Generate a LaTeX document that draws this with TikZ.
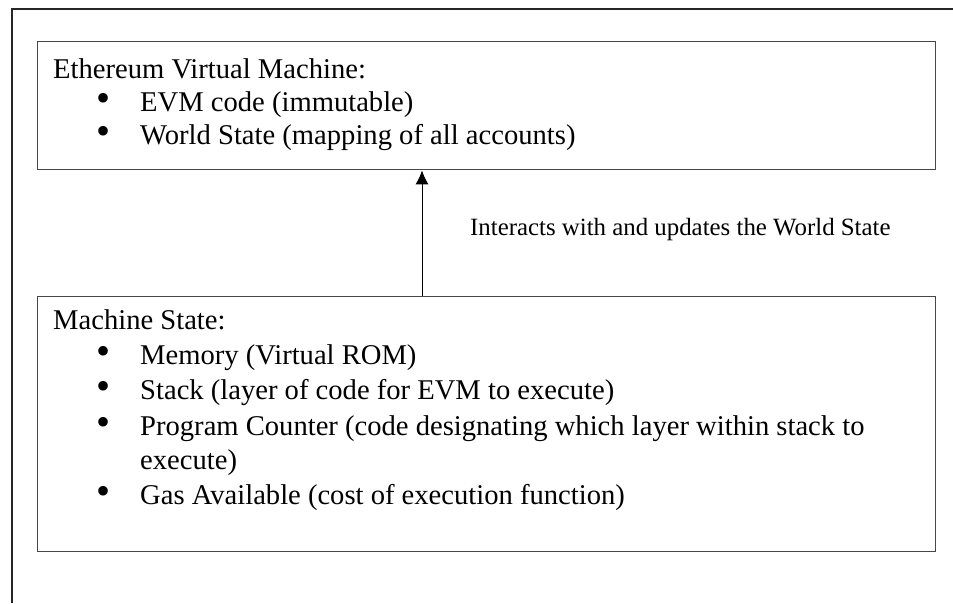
\documentclass[tikz,border=0pt]{standalone}
\usepackage{fontspec}
\setmainfont{Liberation Serif}
\usetikzlibrary{arrows.meta}

\newcommand{\boxtext}{\fontsize{28.6}{32}\selectfont}
\newcommand{\labeltext}{\fontsize{24.85}{28}\selectfont}
\newcommand{\itembullet}{\hspace*{50pt}\makebox[0pt]{\smash{\scalebox{1.4}{\textbullet}}}\hspace*{37pt}}

\tikzset{
  panel/.style={draw=black!72,line width=1.4pt,rectangle,inner sep=0pt,anchor=north west},
  line/.style={anchor=base west,inner sep=0pt,font=\boxtext}
}

\begin{document}
\begin{tikzpicture}[x=1pt,y=-1pt]
\useasboundingbox (0,0) rectangle (953,603);
\draw[line width=1.4pt,black!85] (12,603) -- (12,9) -- (953,9);

\node[panel,minimum width=898pt,minimum height=128pt] (evm) at (37,41) {};
\node[line] (evm-t) at (53,78) {Ethereum Virtual Machine:};
\node[line] (evm-1) at (53,111) {\itembullet EVM code (immutable)};
\node[line] (evm-2) at (53,144) {\itembullet World State (mapping of all accounts)};

\node[panel,minimum width=898pt,minimum height=255pt] (ms) at (37,296) {};
\node[line] (ms-t) at (53,329) {Machine State:};
\node[line] (ms-1) at (53,364) {\itembullet Memory (Virtual ROM)};
\node[line] (ms-2) at (53,399) {\itembullet Stack (layer of code for EVM to execute)};
\node[line] (ms-3) at (53,435) {\itembullet Program Counter (code designating which layer within stack to};
\node[line] (ms-3b) at (140,469) {execute)};
\node[line] (ms-4) at (53,504) {\itembullet Gas Available (cost of execution function)};

\coordinate (up) at (422,0);
\draw[-{Latex[length=14pt,width=13pt]},line width=0.9pt] (ms.north -| up) -- (evm.south -| up);
\node[anchor=base west,inner sep=0pt,font=\labeltext] (upd) at (470,235) {Interacts with and updates the World State};

\end{tikzpicture}
\end{document}
